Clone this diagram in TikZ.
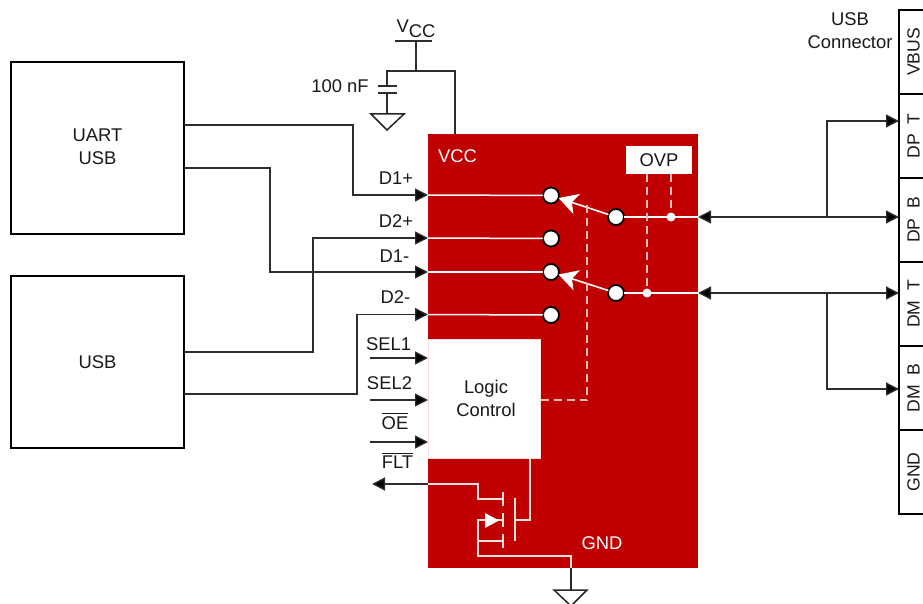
\documentclass[tikz,border=0pt]{standalone}
\usepackage{fontspec}
\setmainfont{Liberation Sans}
\usetikzlibrary{arrows.meta,calc}
\definecolor{tired}{RGB}{192,0,0}
\definecolor{wire}{RGB}{45,45,45}
\definecolor{dashpink}{RGB}{240,190,190}
\newcommand{\ovl}[1]{\vbox{\hrule height .9pt \kern 2.2pt \hbox{#1}}}
\tikzset{
  every node/.style={font=\fontsize{18.4}{23}\selectfont, text=black!90, inner sep=0pt, outer sep=0pt},
  blk/.style={draw=black, line width=1.5pt, fill=white},
  wr/.style={draw=wire, line width=1.3pt},
  sig/.style={wr, -{Triangle[length=13pt,width=13pt,fill=black]}},
  dsig/.style={wr, {Triangle[length=13pt,width=13pt,fill=black]}-{Triangle[length=13pt,width=13pt,fill=black]}},
  wh/.style={draw=white, line width=1.5pt},
  pk/.style={draw=white!88!tired, line width=1.2pt},
  dsh/.style={draw=dashpink, line width=1.2pt, dash pattern=on 8pt off 5pt},
  arm/.style={draw=white, line width=1.6pt, -{Stealth[length=19pt,width=21pt,inset=5pt,fill=white]}},
  term/.style={circle, draw=black, line width=1.8pt, fill=white, minimum size=16pt},
  dotw/.style={circle, fill=white, minimum size=9pt},
  lblw/.style={text=white},
  gnd/.style={draw=black!85, line width=1.5pt},
  pinlbl/.style={rotate=90, font=\fontsize{17.6}{20}\selectfont}
}
\begin{document}
\begin{tikzpicture}[x=1pt,y=-1pt]
\useasboundingbox (0,0) rectangle (923,604);
% blocks
\node[blk, minimum width=173pt, minimum height=172pt] (uart) at (97.5,148) {};
\node[align=center] (uartt) at (97.5,147) {UART\\USB};
\node[blk, minimum width=173pt, minimum height=172pt] (usb) at (97.5,362) {};
\node (usbt) at (97.5,362) {USB};
\fill[tired] (428,134) rectangle (698,568);
\node[fill=white, minimum width=66pt, minimum height=28pt] (ovp) at (659,160) {OVP};
\node[fill=white, draw=white!88!tired, line width=1pt, minimum width=112pt, minimum height=119pt] (logic) at (484.5,398.5) {};
\node[align=center] (logict) at (486,398.5) {Logic\\Control};
\node[lblw] (vccl) at (457.5,156) {VCC};
\node[lblw] (gndl) at (602,543) {GND};
% connector
\draw[draw=black, line width=1.6pt] (923,10) -- (899,10) -- (899,514) -- (923,514);
\foreach \y in {94,178,262,346,430} \draw[draw=black, line width=1.6pt] (899,\y) -- (923,\y);
\node[pinlbl] (pvbus) at (913.5,52) {VBUS};
\node[pinlbl] (pdpt) at (913.5,136) {DP\ \ T};
\node[pinlbl] (pdpb) at (913.5,220) {DP\ \ B};
\node[pinlbl] (pdmt) at (913.5,304) {DM\ \ T};
\node[pinlbl] (pdmb) at (913.5,388) {DM\ \ B};
\node[pinlbl] (pgnd) at (913.5,472) {GND};
\node[align=center] (conn) at (850,30.5) {USB\\Connector};
% named pins
\coordinate (in1) at (428,195); \coordinate (in2) at (428,238);
\coordinate (in3) at (428,272); \coordinate (in4) at (428,314.5);
\node[term] (t1) at (551,195.5) {};
\node[term] (t2) at (551,238.5) {};
\node[term] (t3) at (551,272) {};
\node[term] (t4) at (551,315) {};
\node[term] (c1) at (616,217) {};
\node[term] (c2) at (616,293) {};
\node[dotw] (d1) at (671,217) {};
\node[dotw] (d2) at (647,293) {};
\coordinate (r1) at (698,217); \coordinate (r2) at (698,293);
\coordinate (dpt) at (899,121); \coordinate (dpb) at (899,217);
\coordinate (dmt) at (899,293); \coordinate (dmb) at (899,389);
% internal wires
\foreach \a/\b in {in1/t1,in2/t2,in3/t3,in4/t4} \draw[wh] (\a) -- (\b);
\draw[wh] (c1) -- (r1);
\draw[wh] (c2) -- (r2);
\draw[arm] (c1) -- (t1);
\draw[arm] (c2) -- (t3);
% left signals
\draw[sig] (184,125) -| (353,195) -- (in1);
\draw[sig] (184,352) -| (313,238) -- (in2);
\draw[sig] (184,168) -| (270,272) -- (in3);
\draw[sig] (184,394) -| (357,314.5) -- (in4);
\node (ld1p) at (396,178) {D1+};
\node (ld2p) at (396,221) {D2+};
\node (ld1m) at (394.5,256) {D1-};
\node (ld2m) at (395.5,297) {D2-};
% logic inputs
\coordinate (s1) at (370,358); \coordinate (s2) at (370,400); \coordinate (s3) at (370,442);
\draw[sig] (s1) -- (428,358);
\draw[sig] (s2) -- (428,400);
\draw[sig] (s3) -- (428,442);
\node (sel1) at (388.5,344) {SEL1};
\node (sel2) at (389.5,383) {SEL2};
\node (oe) at (395,421.5) {\ovl{OE}};
\node (flt) at (397.5,461) {\ovl{FLT}};
% FLT output
\coordinate (fltout) at (372,484);
\draw[sig] (428,484) -- (fltout);
\draw[pk] (428,484) -- (478,484) -- (478,499) -- (503,499);
\draw[pk] (503,492) -- (503,506);
\draw[pk] (503,513) -- (503,527);
\draw[pk] (503,534) -- (503,548);
\draw[pk] (515,498) -- (515,541);
\draw[pk] (logic.south -| 530,459) -- (530,520) -- (515,520);
\draw[pk] (503,520) -- (478,520) -- (478,556) -- (571,556) -- (571,568);
\draw[pk] (478,541) -- (503,541);
\fill[white] (485,513) -- (485,528) -- (499,520.5) -- cycle;
% ground
\coordinate (g2) at (571,590);
\draw[gnd] (571,568) -- (g2);
\draw[gnd] (554,590) -- (587,590) -- (571,606) -- cycle;
% dashed control
\draw[dsh] (logic.east |- 0,400) -- (587,400) -- (587,205);
\draw[dsh] (647,174) -- (d2);
\draw[dsh] (671,174) -- (d1);
% right side
\draw[dsig] (r1) -- (dpb);
\draw[dsig] (r2) -- (dmt);
\draw[sig] (827,217) |- (dpt);
\draw[sig] (827,293) |- (dmb);
% VCC
\coordinate (vt) at (416,41); \coordinate (vj) at (416,71);
\draw[wr] (395,41) -- (432,41);
\draw[wr] (vt) -- (vj);
\draw[wr] (387,86) -- (387,71) -- (455,71) -- (455,134);
\draw[wr, line width=1.1pt] (378,86) -- (397,86);
\draw[wr, line width=1.1pt] (378,93) -- (397,93);
\draw[wr] (387,93) -- (387,113);
\draw[gnd] (371,114) -- (404,114) -- (387,130) -- cycle;
\node (cap) at (340,86) {100 nF};
\node (vcc) at (416,29) {V\raisebox{-5pt}{CC}};
\end{tikzpicture}
\end{document}
